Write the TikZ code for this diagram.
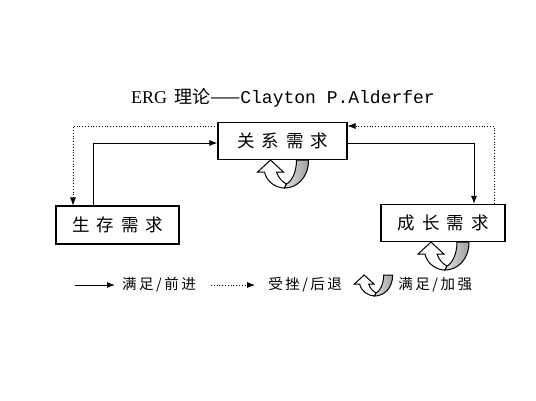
\documentclass[tikz,border=0pt]{standalone}
\usepackage{fontspec}
\setmainfont{Liberation Serif}
\setmonofont{Liberation Mono}
\newfontfamily\cjk{Noto Sans CJK SC}
\usetikzlibrary{arrows.meta,positioning}
\newcommand\cgap{\hspace{7pt}}
\newcommand\lsp{\hspace{2.5pt}}
\tikzset{
  need/.style={draw, rectangle, line width=1.1pt, minimum width=124pt, minimum height=37pt, inner sep=2pt, font={\cjk\fontsize{17.5}{20}\selectfont}},
  legtext/.style={inner sep=1pt, font={\cjk\fontsize{14.5}{16}\selectfont}},
  arr/.style={-{Latex[length=8pt,width=6pt]}, line width=1pt},
  back/.style={-{Latex[length=8pt,width=6pt]}, dotted, line width=0.8pt},
  selfloop/.pic={
    \path[draw, line width=1pt, fill=white] (-12,0) -- (-25,12) -- (-18,12) .. controls (-16,22) and (-6,28) .. (2,28) -- (4,24) .. controls (0,22) and (-4,18) .. (-6,12) -- (1,12) -- cycle;
    \path[draw, line width=1pt, left color=gray!25, right color=gray!75] (14,0) -- (26,0) .. controls (26,18) and (14,28) .. (2,28) -- (4,24) .. controls (8,22) and (14,14) .. (14,0) -- cycle;
  }
}

\begin{document}
\begin{tikzpicture}[x=1pt, y=-1pt]
\useasboundingbox (0,0) rectangle (536,400);

% title
\node[font={\fontsize{18}{21}\selectfont}] (title) at (283,98) {ERG\hspace{7pt}{\cjk 理论——}{\ttfamily Clayton P.Alderfer}};

% the three needs
\node[need, minimum width=129pt] (guanxi) at (282.5,141) {关\cgap 系\cgap 需\cgap 求};
\node[need, minimum width=123pt, minimum height=38pt] (shengcun) at (117.5,225) {生\cgap 存\cgap 需\cgap 求};
\node[need] (chengzhang) at (443,223) {成\cgap 长\cgap 需\cgap 求};

% satisfaction / progression
\draw[arr] ([xshift=-24.5pt]shengcun.north) |- ([yshift=-2pt]guanxi.west);
\draw[arr] ([yshift=-2pt]guanxi.east) -| ([xshift=31pt]chengzhang.north);

% frustration / regression
\draw[back] ([yshift=15pt]guanxi.west) -| ([xshift=-44.5pt]shengcun.north);
\draw[back] ([xshift=51pt]chengzhang.north) |- ([yshift=15pt]guanxi.east);

% satisfaction / strengthening
\pic at (guanxi.south) {selfloop};
\pic at (chengzhang.south) {selfloop};

% legend
\coordinate (l1s) at (75,285);
\node[legtext, right=46pt of l1s] (l1t) {满\lsp 足\lsp/\lsp 前\lsp 进};
\draw[arr, shorten >=6pt] (l1s) -- (l1t);
\coordinate[right=14pt of l1t] (l2s);
\node[legtext, right=56pt of l2s] (l2t) {受\lsp 挫\lsp/\lsp 后\lsp 退};
\draw[back, shorten >=12pt] (l2s) -- (l2t);
\coordinate[right=30pt of l2t] (l3);
\pic[scale=0.75] at ([yshift=10pt]l3) {selfloop};
\node[legtext, right=24pt of l3] (l3t) {满\lsp 足\lsp/\lsp 加\lsp 强};

\end{tikzpicture}
\end{document}
